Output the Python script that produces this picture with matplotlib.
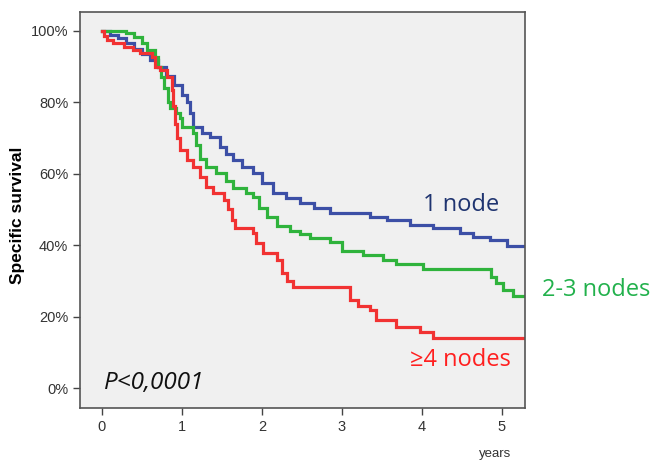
import numpy as np
import matplotlib.pyplot as plt
from matplotlib.ticker import FuncFormatter

# follow-up end (years)
t_fin = 5.3

# 1 node
t_1 = [0, 0.1, 0.2, 0.3, 0.4, 0.5, 0.6, 0.7, 0.8, 0.9, 1.0, 1.06, 1.1, 1.14, 1.25, 1.35,
       1.475, 1.55, 1.64, 1.75, 1.89, 2.0, 2.14, 2.3, 2.475, 2.65, 2.85, 3.35, 3.56, 3.85,
       4.14, 4.48, 4.64, 4.85, 5.06]
s_1 = [100, 99, 98, 96.5, 95, 93.5, 92, 90, 87.5, 85, 82, 80, 77, 73, 71.5, 70.4,
       67.6, 65.5, 63.9, 62, 60.2, 57.5, 54.6, 53.2, 51.8, 50.3, 49, 48, 47, 45.6,
       44.8, 43.4, 42.3, 41.5, 39.8]

# 2-3 nodes
t_23 = [0, 0.3, 0.4, 0.5, 0.56, 0.66, 0.7, 0.74, 0.78, 0.82, 0.85, 0.93, 0.98, 1.0, 1.14,
        1.18, 1.22, 1.3, 1.43, 1.55, 1.64, 1.8, 1.89, 1.97, 2.06, 2.19, 2.35, 2.475, 2.6,
        2.85, 3.0, 3.26, 3.51, 3.68, 4.01, 4.87, 4.93, 5.02, 5.14]
s_23 = [100, 99.5, 98.3, 96.5, 94.7, 92.8, 90, 87, 84, 80, 78.5, 77, 75.5, 73.2, 71.4,
        68, 64, 62, 60.2, 58, 56, 54.5, 53.5, 50.5, 48, 45.5, 44, 43.2, 42,
        41, 38.5, 37.3, 35.9, 34.7, 33.3, 31.1, 29.4, 27.5, 25.8]

# >=4 nodes
t_4 = [0, 0.03, 0.06, 0.14, 0.27, 0.39, 0.47, 0.62, 0.66, 0.725, 0.81, 0.875, 0.89, 0.91,
       0.94, 0.975, 1.06, 1.14, 1.225, 1.3, 1.39, 1.52, 1.58, 1.62, 1.66, 1.89, 1.93, 2.01,
       2.19, 2.25, 2.32, 2.39, 3.1, 3.2, 3.35, 3.43, 3.68, 3.98, 4.14]
s_4 = [100, 98.5, 97.5, 96.6, 95.5, 94.7, 93.8, 92.8, 90, 89, 87, 83.5, 79, 74,
       70, 66.7, 63.9, 62, 59.1, 56.3, 54.6, 52.7, 50, 47, 44.8, 43.4, 40.6, 37.8,
       35.9, 32.2, 30, 28.3, 24.6, 23, 21.8, 19, 17.1, 15.7, 14]

etiquetas = ["1 node", "2-3 nodes", "\u22654 nodes"]
colores = ["#3c4fa6", "#2fb33c", "#f13232"]
colores_txt = ["#1f3470", "#22b14c", "#ff1f1f"]

fig = plt.figure(figsize=(6.54, 4.63), dpi=100)
ax = fig.add_axes([0.1223, 0.1188, 0.6804, 0.8552])
ax.set_facecolor("#f0f0f0")

for t, s, c in [(t_1, s_1, colores[0]), (t_23, s_23, colores[1]), (t_4, s_4, colores[2])]:
    tt = list(t) + [t_fin]
    ss = list(s) + [s[-1]]
    ax.step(tt, ss, where="post", color=c, lw=2.3, solid_joinstyle="miter")

ax.set_xlim(-0.275, 5.29)
ax.set_ylim(-5.6, 105.3)
ax.set_xticks([0, 1, 2, 3, 4, 5])
ax.set_yticks([0, 20, 40, 60, 80, 100])
ax.yaxis.set_major_formatter(FuncFormatter(lambda v, p: f"{v:.0f}%"))
ax.tick_params(direction="out", length=5, width=1, color="#444444",
               labelsize=10.5, labelcolor="#333333")
for lbl in ax.get_xticklabels() + ax.get_yticklabels():
    lbl.set_family("Liberation Sans")
for sp in ax.spines.values():
    sp.set_color("#555555")
    sp.set_linewidth(1.2)

fig.text(18 / 654, 1 - 215 / 463, "Specific survival", fontsize=12.5, fontweight="bold",
         family="Liberation Sans", rotation=90, ha="center", va="center")
fig.text(495 / 654, 1 - 454 / 463, "years", fontsize=9.5, color="#333333",
         family="Liberation Sans", ha="center", va="center")

fig.text(461 / 654, 1 - 205 / 463, etiquetas[0], fontsize=17, color=colores_txt[0],
         family="Open Sans", ha="center", va="center")
fig.text(596 / 654, 1 - 290 / 463, etiquetas[1], fontsize=17, color=colores_txt[1],
         family="Open Sans", ha="center", va="center")
fig.text(460 / 654, 1 - 360 / 463, etiquetas[2], fontsize=17, color=colores_txt[2],
         family="Open Sans", ha="center", va="center")
fig.text(154 / 654, 1 - 383 / 463, "P<0,0001", fontsize=17.5, style="italic",
         color="#111111", family="Open Sans", ha="center", va="center")

fig.savefig("out.png", dpi=100)
